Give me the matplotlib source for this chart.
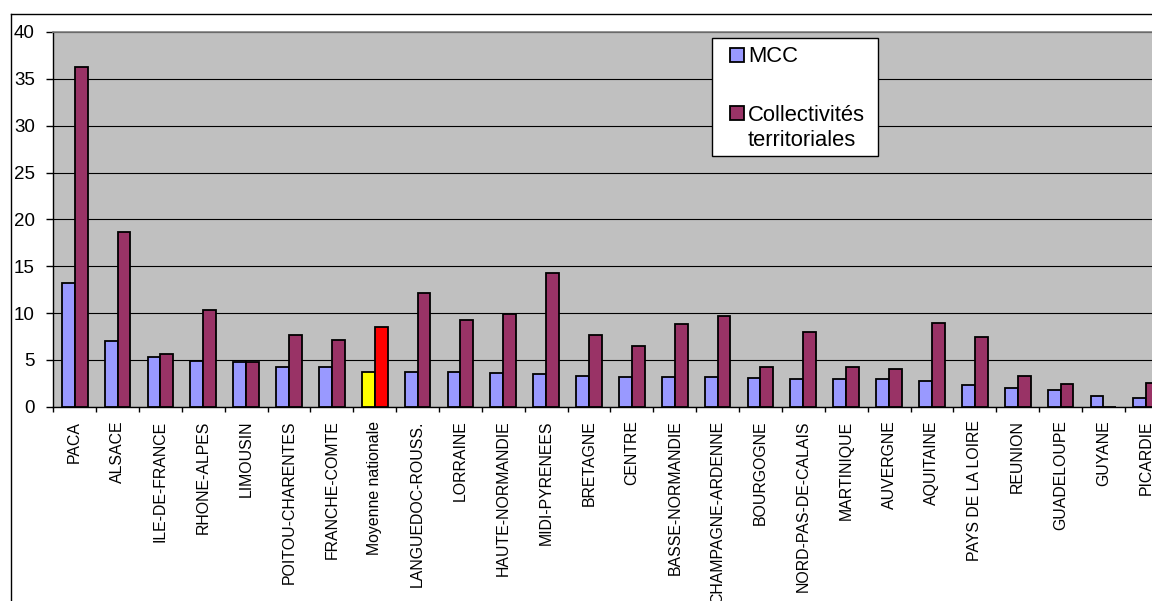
import numpy as np
import matplotlib
matplotlib.use('Agg')
import matplotlib.pyplot as plt
from matplotlib.patches import Rectangle
from matplotlib.lines import Line2D

plt.rcParams['font.family'] = ['Liberation Sans', 'DejaVu Sans']

regions = ['PACA', 'ALSACE', 'ILE-DE-FRANCE', 'RHONE-ALPES', 'LIMOUSIN',
           'POITOU-CHARENTES', 'FRANCHE-COMTE', 'Moyenne nationale',
           'LANGUEDOC-ROUSS.', 'LORRAINE', 'HAUTE-NORMANDIE', 'MIDI-PYRENEES',
           'BRETAGNE', 'CENTRE', 'BASSE-NORMANDIE', 'CHAMPAGNE-ARDENNE',
           'BOURGOGNE', 'NORD-PAS-DE-CALAIS', 'MARTINIQUE', 'AUVERGNE',
           'AQUITAINE', 'PAYS DE LA LOIRE', 'REUNION', 'GUADELOUPE', 'GUYANE',
           'PICARDIE']
mcc = [13.25, 7.05, 5.34, 4.9, 4.8, 4.27, 4.2, 3.74, 3.67, 3.67, 3.56, 3.49,
       3.3, 3.2, 3.2, 3.14, 3.03, 2.96, 2.93, 2.93, 2.75, 2.32, 1.96, 1.78,
       1.14, 0.96]
collectivites = [36.3, 18.6, 5.66, 10.3, 4.8, 7.66, 7.12, 8.55, 12.1, 9.26,
                 9.9, 14.25, 7.66, 6.48, 8.83, 9.69, 4.27, 8.01, 4.27, 4.03,
                 8.98, 7.48, 3.28, 2.43, 0.0, 2.56]
yticks = [0, 5, 10, 15, 20, 25, 30, 35, 40]

c_mcc = '#9999FF'
c_coll = '#993366'
c_avg_mcc = '#FFFF00'
c_avg_coll = '#FF0000'
highlight = 'Moyenne nationale'

W, H = 1152, 601
fig = plt.figure(figsize=(W / 100, H / 100), dpi=100)


def px(x, y):
    # pixel coords (from top-left) -> figure fraction
    return x / W, 1 - y / H


ax_left, ax_top, ax_bottom = 53.3, 32.0, 406.7
cat_w = 42.86
ax = fig.add_axes([ax_left / W, 1 - ax_bottom / H,
                   cat_w * len(regions) / W, (ax_bottom - ax_top) / H])
ax.set_facecolor('#C0C0C0')

x = np.arange(len(regions))
bw = 0.3
cols_mcc = [c_avg_mcc if r == highlight else c_mcc for r in regions]
cols_coll = [c_avg_coll if r == highlight else c_coll for r in regions]
ax.bar(x - bw / 2, mcc, bw, color=cols_mcc, edgecolor='black', linewidth=1.3, zorder=3)
ax.bar(x + bw / 2, collectivites, bw, color=cols_coll, edgecolor='black', linewidth=1.3, zorder=3)

ax.set_xlim(-0.5, len(regions) - 0.5)
ax.set_ylim(0, 40)
ax.set_yticks(yticks)
ax.set_yticklabels([str(v) for v in yticks], fontsize=13.5)
ax.tick_params(axis='y', length=4.75, width=1, pad=8.5, direction='out')
ax.yaxis.grid(True, color='black', linewidth=0.8, zorder=1)
ax.set_axisbelow(True)

ax.set_xticks(x)
ax.set_xticklabels(regions, rotation=90, fontsize=11.4)
ax.tick_params(axis='x', which='major', length=0, pad=10)
ax.set_xticks(np.arange(len(regions) + 1) - 0.5, minor=True)
ax.tick_params(axis='x', which='minor', length=3.6, width=1, direction='out')

ax.spines['top'].set_color('#808080')
ax.spines['top'].set_linewidth(1.2)
ax.spines['left'].set_linewidth(1)
ax.spines['bottom'].set_linewidth(1)

# legend box drawn by hand (Excel style)
lx0, ly0 = px(712, 156)
lx1, ly1 = px(878, 38)
fig.add_artist(Rectangle((lx0, ly0), lx1 - lx0, ly1 - ly0, transform=fig.transFigure,
                         facecolor='white', edgecolor='black', linewidth=1, zorder=5))
for yc, col in [(55, c_mcc), (113, c_coll)]:
    sx, sy = px(730, yc + 7)
    fig.add_artist(Rectangle((sx, sy), 14 / W, 14 / H, transform=fig.transFigure,
                             facecolor=col, edgecolor='black', linewidth=1.3, zorder=6))
for txt, yb in [('MCC', 62.3), ('Collectivités', 120.7), ('territoriales', 145.7)]:
    tx, ty = px(748, yb)
    fig.text(tx, ty, txt, fontsize=15.8, va='baseline', ha='left', zorder=7)

# outer chart frame (cut at right and bottom)
x0, y0 = px(10.7, 14)
fig.add_artist(Line2D([x0, x0], [y0, 0], transform=fig.transFigure, color='black', linewidth=1))
fig.add_artist(Line2D([x0, 1], [y0, y0], transform=fig.transFigure, color='black', linewidth=1))

fig.savefig('out.png', dpi=100)
